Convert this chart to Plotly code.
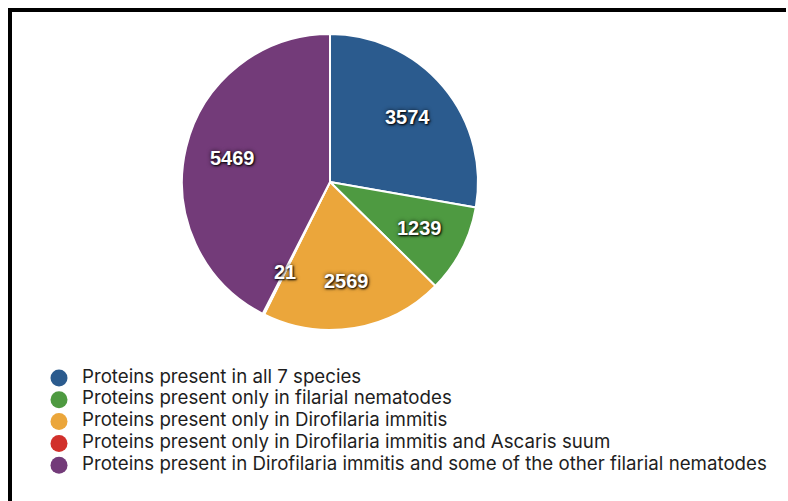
import math
import plotly.graph_objects as go

categories = [
    "Proteins present in all 7 species",
    "Proteins present only in filarial nematodes",
    "Proteins present only in Dirofilaria immitis",
    "Proteins present only in Dirofilaria immitis and Ascaris suum",
    "Proteins present in Dirofilaria immitis and some of the other filarial nematodes",
]
values = [3574, 1239, 2569, 21, 5469]
colors = ["#2b5b8e", "#4e9a41", "#eba63b", "#d1302b", "#733b79"]

W, H = 788, 501
cx, cy, R = 330, 182, 148  # pie centre / radius in pixels

fig = go.Figure()
fig.add_trace(go.Pie(
    labels=categories, values=values, sort=False, direction="clockwise",
    rotation=0, marker=dict(colors=colors, line=dict(color="white", width=2)),
    textinfo="none", hoverinfo="label+value", showlegend=False,
    domain=dict(x=[(cx - R) / W, (cx + R) / W], y=[(H - cy - R) / H, (H - cy + R) / H]),
))

# legend drawn as markers + text on a hidden pixel-scaled axis
leg_x, leg_y0, leg_step, text_x = 59, 378, 21.8, 82
rows = list(range(len(categories)))
fig.add_trace(go.Scatter(
    x=[leg_x] * len(categories), y=[leg_y0 + i * leg_step for i in rows],
    mode="markers", marker=dict(color=colors, size=17, line=dict(width=0)),
    hovertext=categories, hoverinfo="text", showlegend=False,
))
fig.add_trace(go.Scatter(
    x=[text_x] * len(categories), y=[leg_y0 + i * leg_step for i in rows],
    mode="text", text=categories, textposition="middle right",
    textfont=dict(family="Inter, Liberation Sans, Arial, sans-serif", size=18.7, color="#1e1e1e"),
    hoverinfo="skip", showlegend=False,
))

# value labels placed at mid-angle of each slice
total = sum(values)
cum = 0
annotations = []
for v in values:
    mid = (cum + v / 2) / total * 2 * math.pi
    cum += v
    r = 0.68 * R
    px = cx + r * math.sin(mid)
    py = cy - r * math.cos(mid)
    annotations.append(dict(
        x=px / W, y=(H - py) / H, xref="paper", yref="paper", text=str(v),
        showarrow=False, xanchor="center", yanchor="middle",
        font=dict(family="Liberation Sans, Arial, sans-serif", size=20, color="white",
                  weight="bold",
                  shadow="1px 1px 2px rgba(0,0,0,0.95), 0px 0px 4px rgba(0,0,0,0.7)"),
    ))

fig.update_layout(
    width=W, height=H, margin=dict(l=0, r=0, t=0, b=0),
    paper_bgcolor="white", plot_bgcolor="rgba(0,0,0,0)",
    xaxis=dict(visible=False, range=[0, W], domain=[0, 1], fixedrange=True),
    yaxis=dict(visible=False, range=[H, 0], domain=[0, 1], fixedrange=True),
    annotations=annotations,
    showlegend=False,
    shapes=[
        dict(type="rect", xref="paper", yref="paper", x0=8 / W, x1=786 / W,
             y0=(H - 12) / H, y1=(H - 8) / H, fillcolor="black", line=dict(width=0)),
        dict(type="rect", xref="paper", yref="paper", x0=8 / W, x1=12 / W,
             y0=0, y1=(H - 8) / H, fillcolor="black", line=dict(width=0)),
    ],
)
fig.write_html("out.html")
